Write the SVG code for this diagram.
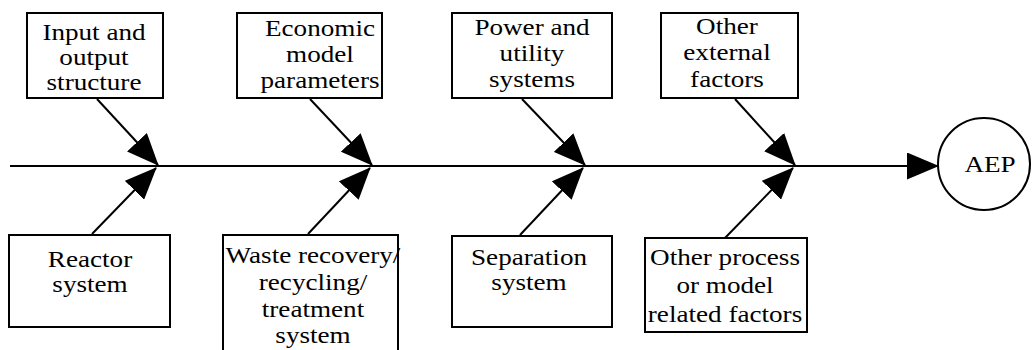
<svg xmlns="http://www.w3.org/2000/svg" width="1032" height="350" viewBox="0 0 1032 350">
  <style>
    .box { fill: #fff; stroke: #000; stroke-width: 2; }
    .lbl { font-family: "Liberation Serif", "Times New Roman", serif; font-size: 23px; fill: #000; text-anchor: middle; }
    .edge { stroke: #000; stroke-width: 2; fill: none; }
  </style>
  <defs>
    <marker id="ah" viewBox="0 0 32 27" refX="31" refY="13.5" markerWidth="32" markerHeight="27" markerUnits="userSpaceOnUse" orient="auto">
      <path d="M0,0 L32,13.5 L0,27 Z" fill="#000"/>
    </marker>
  </defs>
  <rect width="1032" height="350" fill="#fff"/>

  <g id="connectors">
    <line class="edge" x1="10" y1="166" x2="938" y2="166" marker-end="url(#ah)"/>
    <line class="edge" x1="97" y1="99" x2="158" y2="165" marker-end="url(#ah)"/>
    <line class="edge" x1="310" y1="99" x2="372" y2="165" marker-end="url(#ah)"/>
    <line class="edge" x1="522" y1="99" x2="585" y2="165" marker-end="url(#ah)"/>
    <line class="edge" x1="735" y1="99" x2="795" y2="165" marker-end="url(#ah)"/>
    <line class="edge" x1="92" y1="234" x2="156" y2="168" marker-end="url(#ah)"/>
    <line class="edge" x1="308" y1="234" x2="370" y2="168" marker-end="url(#ah)"/>
    <line class="edge" x1="520" y1="235" x2="583" y2="168" marker-end="url(#ah)"/>
    <line class="edge" x1="725" y1="238" x2="793" y2="168" marker-end="url(#ah)"/>
  </g>

  <g id="input-output">
    <rect class="box" x="27" y="13" width="136" height="85"/>
    <g transform="translate(94,0) scale(1.18,1)">
      <text class="lbl" x="0" y="40">Input and</text>
      <text class="lbl" x="0" y="65">output</text>
      <text class="lbl" x="0" y="90">structure</text>
    </g>
  </g>

  <g id="economic">
    <rect class="box" x="237" y="13" width="145" height="85"/>
    <g transform="translate(320,0) scale(1.18,1)">
      <text class="lbl" x="0" y="36">Economic</text>
      <text class="lbl" x="0" y="62">model</text>
      <text class="lbl" x="0" y="88">parameters</text>
    </g>
  </g>

  <g id="power">
    <rect class="box" x="452" y="13" width="160" height="85"/>
    <g transform="translate(532,0) scale(1.18,1)">
      <text class="lbl" x="0" y="35">Power and</text>
      <text class="lbl" x="0" y="61">utility</text>
      <text class="lbl" x="0" y="87">systems</text>
    </g>
  </g>

  <g id="external">
    <rect class="box" x="661" y="13" width="137" height="85"/>
    <g transform="translate(727,0) scale(1.18,1)">
      <text class="lbl" x="0" y="34">Other</text>
      <text class="lbl" x="0" y="60">external</text>
      <text class="lbl" x="0" y="87">factors</text>
    </g>
  </g>

  <g id="reactor">
    <rect class="box" x="9" y="235" width="161" height="92"/>
    <g transform="translate(90,0) scale(1.18,1)">
      <text class="lbl" x="0" y="267">Reactor</text>
      <text class="lbl" x="0" y="292">system</text>
    </g>
  </g>

  <g id="waste">
    <rect class="box" x="223" y="235" width="175" height="130"/>
    <g transform="translate(313,0) scale(1.18,1)">
      <text class="lbl" x="0" y="263">Waste recovery/</text>
      <text class="lbl" x="0" y="290">recycling/</text>
      <text class="lbl" x="0" y="317">treatment</text>
      <text class="lbl" x="0" y="343">system</text>
    </g>
  </g>

  <g id="separation">
    <rect class="box" x="452" y="236" width="160" height="91"/>
    <g transform="translate(529,0) scale(1.18,1)">
      <text class="lbl" x="0" y="265">Separation</text>
      <text class="lbl" x="0" y="290">system</text>
    </g>
  </g>

  <g id="other-process">
    <rect class="box" x="645" y="238" width="162" height="94"/>
    <g transform="translate(725,0) scale(1.18,1)">
      <text class="lbl" x="0" y="265">Other process</text>
      <text class="lbl" x="0" y="293">or model</text>
      <text class="lbl" x="0" y="322">related factors</text>
    </g>
  </g>

  <g id="aep">
    <circle class="box" cx="984" cy="164" r="46"/>
    <g transform="translate(990,0) scale(1.18,1)">
      <text class="lbl" x="0" y="172">AEP</text>
    </g>
  </g>
</svg>
